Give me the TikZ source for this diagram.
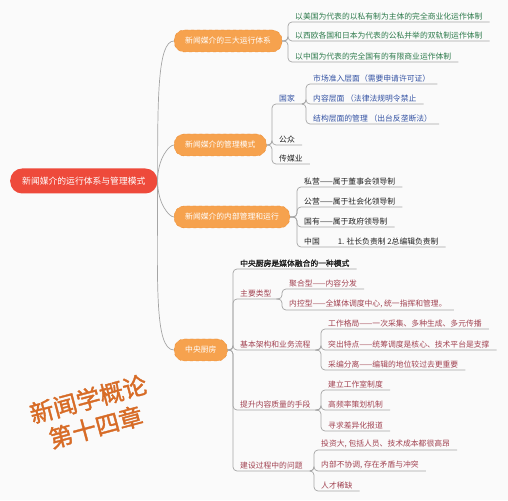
\documentclass[tikz,border=0pt]{standalone}
\usepackage{fontspec}
\setmainfont{Noto Sans CJK SC}[AutoFakeBold=1.5]
\usepackage{tikz}
\usetikzlibrary{positioning}

\definecolor{bgcol}{HTML}{FAFAFA}
\definecolor{rootred}{HTML}{EE4A3B}
\definecolor{topicorange}{HTML}{F6A24E}
\definecolor{topicedge}{HTML}{EB8A2E}
\definecolor{linegray}{HTML}{A5A5A5}
\definecolor{leafgreen}{HTML}{2E7B4C}
\definecolor{leafblue}{HTML}{3352A3}
\definecolor{leafred}{HTML}{A24352}
\definecolor{leafblack}{HTML}{222222}
\definecolor{stamporange}{HTML}{D76B26}

\tikzset{
  rootbox/.style={fill=rootred, text=white, rounded corners=12pt, minimum height=25pt,
    inner xsep=12pt, anchor=west, font=\fontsize{8.8}{10}\selectfont},
  topicbox/.style={fill=topicorange, draw=topicedge, dashed, text=white, rounded corners=10pt,
    minimum height=22pt, inner xsep=11pt, anchor=west, font=\fontsize{7.8}{9}\selectfont},
  leaf/.style={anchor=south west, inner xsep=7pt, inner ysep=2pt, font=\fontsize{7.8}{9}\selectfont},
  trunk/.style={draw=linegray, line width=0.7pt},
  twig/.style={draw=linegray, line width=0.7pt, rounded corners=4pt},
  stamp/.style={rotate=15, align=center, font=\fontsize{24}{29}\selectfont\bfseries}
}
% branch from a parent anchor to the underline of a child
\newcommand\twig[2]{\draw[twig] (#1) -| (#2.south west) -- (#2.south east);}

\begin{document}
\begin{tikzpicture}[x=1pt,y=1pt]
  \fill[bgcol] (0,0) rectangle (508,500);
  \useasboundingbox (0,0) rectangle (508,500);

  % Root and main topics
  \node[rootbox] (root) at (10,319) {新闻媒介的运行体系与管理模式};
  \node[topicbox] (n1) at (174,459) {新闻媒介的三大运行体系};
  \node[topicbox] (n2) at (174,355) {新闻媒介的管理模式};
  \node[topicbox] (n3) at (174,283) {新闻媒介的内部管理和运行};
  \node[topicbox] (n4) at (174,150) {中央厨房};

  \draw[trunk] (root.east) to[out=90,in=180,out looseness=1.5,in looseness=0.3] (n1.west);
  \draw[trunk] (root.east) to[out=90,in=180,out looseness=1.5,in looseness=0.3] (n2.west);
  \draw[trunk] (root.east) to[out=-90,in=180,out looseness=1.5,in looseness=0.3] (n3.west);
  \draw[trunk] (root.east) to[out=-90,in=180,out looseness=1.5,in looseness=0.3] (n4.west);

  % Three operating systems
  \node[leaf, text=leafgreen] (a1) at (288,478) {以美国为代表的以私有制为主体的完全商业化运作体制};
  \node[leaf, text=leafgreen] (a2) at (288,459) {以西欧各国和日本为代表的公私并举的双轨制运作体制};
  \node[leaf, text=leafgreen] (a3) at (288,438) {以中国为代表的完全国有的有限商业运作体制};
  \twig{n1.east}{a1}
  \twig{n1.east}{a2}
  \twig{n1.east}{a3}

  % Management modes
  \node[leaf, text=leafblue] (b1) at (272,396) {国家};
  \node[leaf, text=leafblack] (b2) at (272,355) {公众};
  \node[leaf, text=leafblack] (b3) at (272,336) {传媒业};
  \twig{n2.east}{b1}
  \twig{n2.east}{b2}
  \twig{n2.east}{b3}

  \node[leaf, text=leafblue] (b11) at (306,416) {市场准入层面（需要申请许可证）};
  \node[leaf, text=leafblue] (b12) at (306,396) {内容层面 （法律法规明令禁止};
  \node[leaf, text=leafblue] (b13) at (306,376) {结构层面的管理 （出台反垄断法）};
  \twig{b1.south east}{b11}
  \twig{b1.south east}{b12}
  \twig{b1.south east}{b13}

  % Internal management
  \node[leaf, text=leafblack] (c1) at (297,313) {私营——属于董事会领导制};
  \node[leaf, text=leafblack] (c2) at (297,293) {公营——属于社会化领导制};
  \node[leaf, text=leafblack] (c3) at (297,273) {国有——属于政府领导制};
  \node[leaf, text=leafblack] (c4) at (297,253) {中国\hspace{18pt}1. 社长负责制 2总编辑负责制};
  \twig{n3.east}{c1}
  \twig{n3.east}{c2}
  \twig{n3.east}{c3}
  \twig{n3.east}{c4}

  % Central kitchen
  \node[leaf, text=leafblack, font=\fontsize{7.8}{9}\selectfont\bfseries] (d1) at (233,231) {中央厨房是媒体融合的一种模式};
  \node[leaf, text=leafred] (d2) at (233,201) {主要类型};
  \node[leaf, text=leafred] (d3) at (233,150) {基本架构和业务流程};
  \node[leaf, text=leafred] (d4) at (233,90) {提升内容质量的手段};
  \node[leaf, text=leafred] (d5) at (233,29) {建设过程中的问题};
  \twig{n4.east}{d1}
  \twig{n4.east}{d2}
  \twig{n4.east}{d3}
  \twig{n4.east}{d4}
  \twig{n4.east}{d5}

  \node[leaf, text=leafred] (d21) at (282,211) {聚合型——内容分发};
  \node[leaf, text=leafred] (d22) at (282,190) {内控型——全媒体调度中心, 统一指挥和管理。};
  \twig{d2.south east}{d21}
  \twig{d2.south east}{d22}

  \node[leaf, text=leafred] (d31) at (321,171) {工作格局——一次采集、多种生成、多元传播};
  \node[leaf, text=leafred] (d32) at (321,150) {突出特点——统筹调度是核心、技术平台是支撑};
  \node[leaf, text=leafred] (d33) at (321,130) {采编分离——编辑的地位较过去更重要};
  \twig{d3.south east}{d31}
  \twig{d3.south east}{d32}
  \twig{d3.south east}{d33}

  \node[leaf, text=leafred] (d41) at (321,110) {建立工作室制度};
  \node[leaf, text=leafred] (d42) at (321,90) {高频率策划机制};
  \node[leaf, text=leafred] (d43) at (321,69) {寻求差异化报道};
  \twig{d4.south east}{d41}
  \twig{d4.south east}{d42}
  \twig{d4.south east}{d43}

  \node[leaf, text=leafred] (d51) at (314,50) {投资大, 包括人员、技术成本都很高昂};
  \node[leaf, text=leafred] (d52) at (314,29) {内部不协调, 存在矛盾与冲突};
  \node[leaf, text=leafred] (d53) at (314,9) {人才稀缺};
  \twig{d5.south east}{d51}
  \twig{d5.south east}{d52}
  \twig{d5.south east}{d53}

  % Chapter stamp
  \node[stamp, text=stamporange] (stamp) at (92,87) {新闻学概论\\第十四章};
\end{tikzpicture}
\end{document}
